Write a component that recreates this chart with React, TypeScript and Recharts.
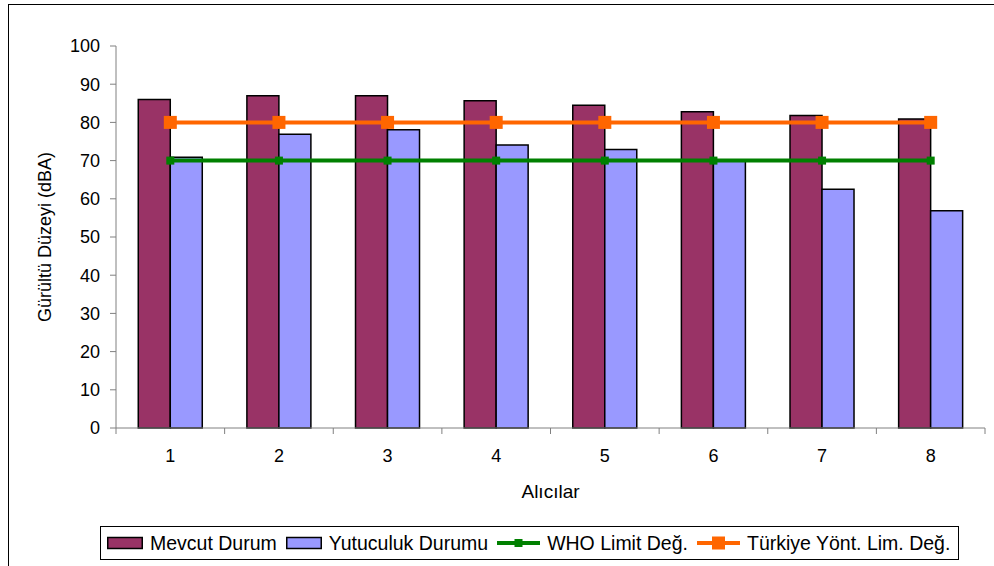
import React from "react";
import {
  ComposedChart,
  Bar,
  Line,
  XAxis,
  YAxis,
} from "recharts";

// receivers and measured levels
const receivers = ["1", "2", "3", "4", "5", "6", "7", "8"];
const mevcutDurum = [86, 87, 87, 85.7, 84.5, 82.8, 81.8, 80.9];
const yutuculukDurumu = [70.9, 76.9, 78.1, 74.1, 72.9, 69.8, 62.5, 56.9];
const whoLimit = [70, 70, 70, 70, 70, 70, 70, 70];
const turkiyeLimit = [80, 80, 80, 80, 80, 80, 80, 80];
const yTicks = [0, 10, 20, 30, 40, 50, 60, 70, 80, 90, 100];

const data = receivers.map((name, i) => ({
  name,
  mevcut: mevcutDurum[i],
  yutuculuk: yutuculukDurumu[i],
  who: whoLimit[i],
  turkiye: turkiyeLimit[i],
}));

const FONT = "'Liberation Sans', Arial, sans-serif";
const AXIS_GRAY = "#808080";

// category label in the middle, tick marks on the band edges
const BandTick = (props: any) => {
  const { x, y, payload, index } = props;
  const half = payload && payload.offset ? payload.offset : 54.3;
  return (
    <g>
      <line x1={x - half} y1={y - 6} x2={x - half} y2={y} stroke={AXIS_GRAY} />
      {index === receivers.length - 1 && (
        <line x1={x + half} y1={y - 6} x2={x + half} y2={y} stroke={AXIS_GRAY} />
      )}
      <text x={x} y={y + 15} dy="0.71em" textAnchor="middle" fill="#000" fontSize={18} fontFamily={FONT}>
        {payload.value}
      </text>
    </g>
  );
};

const squareDot = (size: number, color: string) => (props: any) => {
  const { cx, cy, index } = props;
  return (
    <rect key={`sq-${color}-${index}`} x={cx - size / 2} y={cy - size / 2} width={size} height={size} fill={color} />
  );
};

const legendItems = [
  { label: "Mevcut Durum", kind: "bar", color: "#993366" },
  { label: "Yutuculuk Durumu", kind: "bar", color: "#9999FF" },
  { label: "WHO Limit Değ.", kind: "line", color: "#008000", marker: 8 },
  { label: "Türkiye Yönt. Lim. Değ.", kind: "line", color: "#FF6600", marker: 13 },
];

const LegendBox = () => (
  <div
    style={{
      position: "absolute",
      left: 100,
      top: 526,
      width: 859,
      height: 34,
      boxSizing: "border-box",
      border: "1px solid #000",
      display: "flex",
      alignItems: "center",
      paddingLeft: 6,
      fontFamily: FONT,
      fontSize: 19.5,
      color: "#000",
      background: "#fff",
    }}
  >
    {legendItems.map((it) => {
      const w = it.kind === "bar" ? 36 : 43;
      return (
        <div key={it.label} style={{ display: "flex", alignItems: "center", marginRight: 9 }}>
          <svg width={w} height={14} style={{ marginRight: 7 }}>
            {it.kind === "bar" ? (
              <rect x={0.75} y={1.5} width={w - 1.5} height={11} fill={it.color} stroke="#000" strokeWidth={1.5} />
            ) : (
              <g>
                <line x1={0} y1={7} x2={w} y2={7} stroke={it.color} strokeWidth={4} />
                <rect
                  x={w / 2 - (it.marker as number) / 2}
                  y={7 - (it.marker as number) / 2}
                  width={it.marker}
                  height={it.marker}
                  fill={it.color}
                />
              </g>
            )}
          </svg>
          <span style={{ whiteSpace: "nowrap" }}>{it.label}</span>
        </div>
      );
    })}
  </div>
);

export default function App() {
  return (
    <div style={{ position: "fixed", left: 0, top: 0, width: 994, height: 566, overflow: "hidden", background: "#fff" }}>
      <div
        style={{
          position: "absolute",
          left: 8,
          top: 4,
          width: 1010,
          height: 600,
          border: "1px solid #000",
        }}
      />
      <div style={{ position: "absolute", left: 0, top: 0 }}>
        <ComposedChart
          width={994}
          height={566}
          data={data}
          margin={{ top: 46, right: 9, left: 0, bottom: 58 }}
          barCategoryGap="20.5%"
          barGap={0}
        >
          <XAxis
            dataKey="name"
            height={80}
            stroke={AXIS_GRAY}
            tickLine={false}
            tickSize={6}
            tickMargin={0}
            tick={<BandTick />}
            interval={0}
            label={({ viewBox }: any) => (
              <text
                x={viewBox.x + viewBox.width / 2}
                y={491}
                textAnchor="middle"
                dominantBaseline="central"
                fontSize={19}
                fontFamily={FONT}
                fill="#000"
              >
                Alıcılar
              </text>
            )}
          />
          <YAxis
            width={116}
            domain={[0, 100]}
            ticks={yTicks}
            interval={0}
            stroke={AXIS_GRAY}
            tickSize={6}
            tickMargin={10}
            tick={{ fill: "#000", fontSize: 18, fontFamily: FONT }}
            label={({ viewBox }: any) => (
              <text
                x={45}
                y={viewBox.y + viewBox.height / 2}
                textAnchor="middle"
                dominantBaseline="central"
                transform={`rotate(-90, 45, ${viewBox.y + viewBox.height / 2})`}
                fontSize={18}
                fontFamily={FONT}
                fill="#000"
              >
                Gürültü Düzeyi (dBA)
              </text>
            )}
          />
          <Bar dataKey="mevcut" fill="#993366" stroke="#000" strokeWidth={1.5} isAnimationActive={false} />
          <Bar dataKey="yutuculuk" fill="#9999FF" stroke="#000" strokeWidth={1.5} isAnimationActive={false} />
          <Line
            dataKey="who"
            type="linear"
            stroke="#008000"
            strokeWidth={4}
            dot={squareDot(8, "#008000")}
            activeDot={false}
            isAnimationActive={false}
          />
          <Line
            dataKey="turkiye"
            type="linear"
            stroke="#FF6600"
            strokeWidth={4}
            dot={squareDot(13, "#FF6600")}
            activeDot={false}
            isAnimationActive={false}
          />
        </ComposedChart>
      </div>
      <LegendBox />
    </div>
  );
}
